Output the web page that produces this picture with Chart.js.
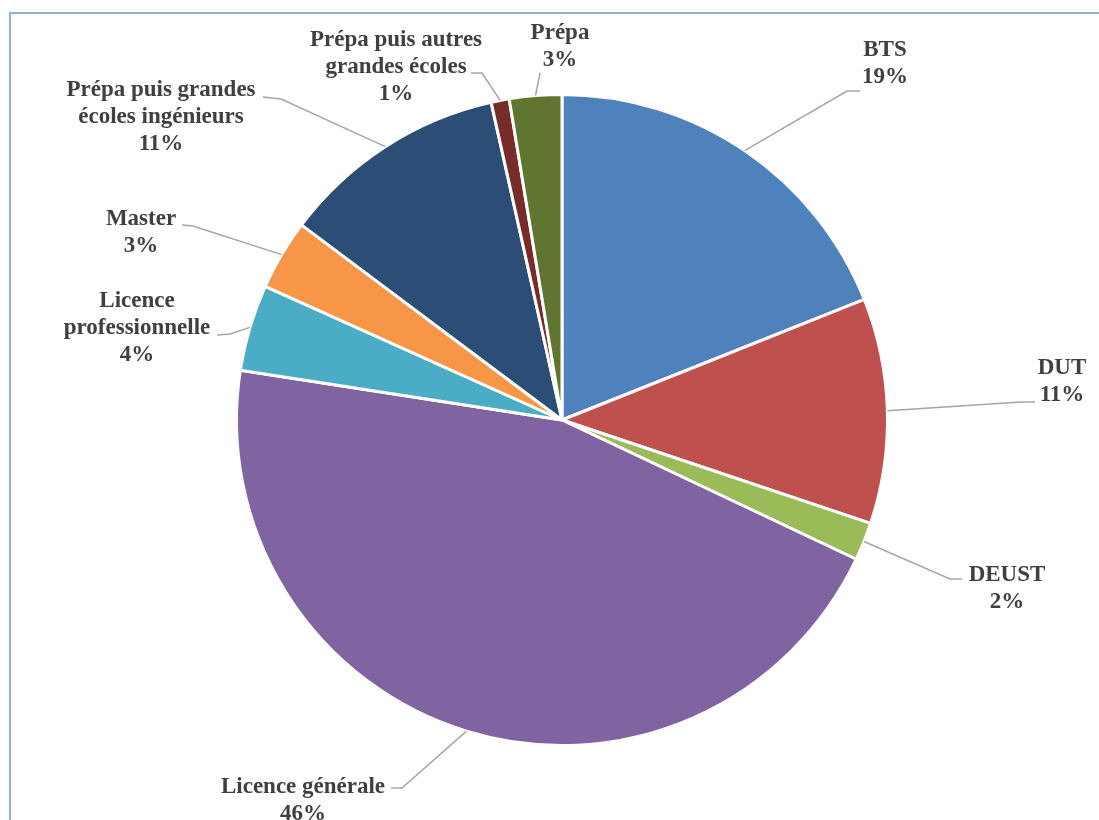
<!DOCTYPE html>
<html>
<head>
<meta charset="utf-8">
<script src="https://cdn.jsdelivr.net/npm/chart.js@4.4.0/dist/chart.umd.min.js"></script>
<style>
  html, body { margin: 0; padding: 0; background: #fff; overflow: hidden; }
  #frame { position: absolute; left: 9px; top: 12px; width: 1200px; height: 900px; border: 2px solid #8eb1de; }
  canvas { position: absolute; left: 0; top: 0; }
</style>
</head>
<body>
<div id="frame"></div>
<canvas id="chart-formation" width="1099" height="820"></canvas>
<script>
// Données
const categories = ['BTS', 'DUT', 'DEUST', 'Licence générale', 'Licence professionnelle', 'Master',
  'Prépa puis grandes écoles ingénieurs', 'Prépa puis autres grandes écoles', 'Prépa'];
const shares = [19, 11.2, 1.9, 45.5, 4.3, 3.5, 11.3, 0.9, 2.6];
const pctLabels = ['19%', '11%', '2%', '46%', '4%', '3%', '11%', '1%', '3%'];
const labelLines = [
  ['BTS'], ['DUT'], ['DEUST'], ['Licence générale'], ['Licence', 'professionnelle'], ['Master'],
  ['Prépa puis grandes', 'écoles ingénieurs'], ['Prépa puis autres', 'grandes écoles'], ['Prépa']
];
const colors = ['#4f81bd', '#c0504d', '#9bbb59', '#8064a2', '#4bacc6', '#f79646', '#2c4d75', '#772c2a', '#5f7530'];

// Placement des étiquettes (centre du texte, coude et fin de la ligne de rappel)
const labelLayout = [
  { x: 885, y: 50, elbow: [847, 91], end: [860, 91] },
  { x: 1062, y: 368, elbow: [1021, 402], end: [1035, 402] },
  { x: 1007, y: 575, elbow: [950, 579], end: [962, 579] },
  { x: 303, y: 787, elbow: [402, 788], end: [391, 788] },
  { x: 137, y: 301, elbow: [230, 334], end: [217, 335] },
  { x: 141, y: 219, elbow: [193, 226], end: [182, 225] },
  { x: 161, y: 90, elbow: [281, 99], end: [263, 97] },
  { x: 396, y: 40, elbow: [482, 73], end: [471, 73] },
  { x: 560, y: 33, elbow: [540, 73], end: [540, 73] }
];

const outsideLabels = {
  id: 'outsideLabels',
  afterDraw(chart) {
    const ctx = chart.ctx;
    const arcs = chart.getDatasetMeta(0).data;
    ctx.save();
    arcs.forEach((arc, i) => {
      const p = arc.getProps(['x', 'y', 'startAngle', 'endAngle', 'outerRadius'], true);
      const mid = (p.startAngle + p.endAngle) / 2;
      const ax = p.x + Math.cos(mid) * p.outerRadius;
      const ay = p.y + Math.sin(mid) * p.outerRadius;
      const lay = labelLayout[i];

      // ligne de rappel
      ctx.strokeStyle = '#a6a6a6';
      ctx.lineWidth = 1.5;
      ctx.beginPath();
      ctx.moveTo(ax, ay);
      ctx.lineTo(lay.elbow[0], lay.elbow[1]);
      ctx.lineTo(lay.end[0], lay.end[1]);
      ctx.stroke();

      // texte
      ctx.fillStyle = '#404040';
      ctx.font = 'bold 23px "Liberation Serif", "Times New Roman", serif';
      ctx.textAlign = 'center';
      ctx.textBaseline = 'middle';
      const lines = labelLines[i].concat([pctLabels[i]]);
      lines.forEach((txt, k) => {
        ctx.fillText(txt, lay.x, lay.y + k * 27);
      });
    });
    ctx.restore();
  }
};

new Chart(document.getElementById('chart-formation'), {
  type: 'pie',
  data: {
    labels: categories,
    datasets: [{
      data: shares,
      backgroundColor: colors,
      borderColor: '#ffffff',
      borderWidth: 3
    }]
  },
  options: {
    responsive: false,
    animation: false,
    layout: { padding: { left: 235, right: 210, top: 93, bottom: 73 } },
    plugins: {
      legend: { display: false },
      tooltip: { enabled: false }
    }
  },
  plugins: [outsideLabels]
});
</script>
</body>
</html>
